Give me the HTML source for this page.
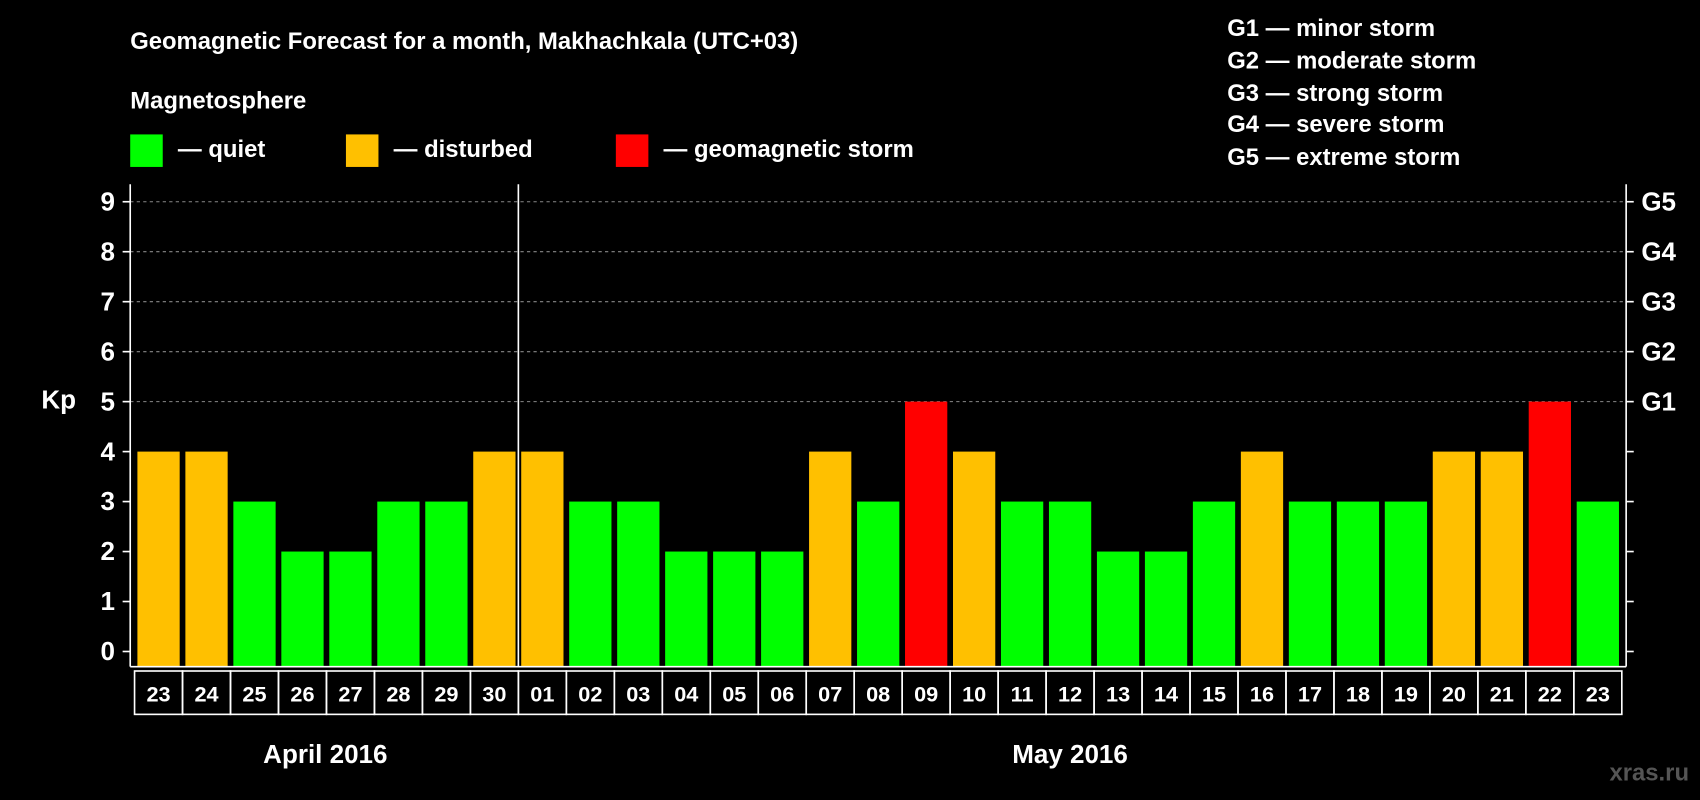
<!DOCTYPE html>
<html><head><meta charset="utf-8"><style>
html,body{margin:0;padding:0;background:#000;}
svg{display:block;font-family:"Liberation Sans",Arial,sans-serif;font-weight:bold;}
</style></head><body>
<svg id="chart" width="1700" height="800" viewBox="0 0 1568 738" xmlns="http://www.w3.org/2000/svg">
<rect width="1568" height="738" fill="#000"/>
<text x="120" y="45" fill="#fff" font-size="22">Geomagnetic Forecast for a month, Makhachkala (UTC+03)</text>
<text x="120" y="100" fill="#fff" font-size="22">Magnetosphere</text>
<g><rect x="120" y="124" width="30" height="30" fill="#00ff00"/><text x="164" y="145" fill="#fff" font-size="22">— quiet</text></g>
<g><rect x="319" y="124" width="30" height="30" fill="#ffc000"/><text x="363" y="145" fill="#fff" font-size="22">— disturbed</text></g>
<g><rect x="568" y="124" width="30" height="30" fill="#ff0000"/><text x="612" y="145" fill="#fff" font-size="22">— geomagnetic storm</text></g>
<g fill="#fff" font-size="22">
<text x="1132" y="33">G1 — minor storm</text>
<text x="1132" y="63">G2 — moderate storm</text>
<text x="1132" y="93">G3 — strong storm</text>
<text x="1132" y="122">G4 — severe storm</text>
<text x="1132" y="152">G5 — extreme storm</text>
</g>
<text x="38" y="377" fill="#fff" font-size="24">Kp</text>
<g id="plot"></g>
<text x="300" y="704" fill="#fff" font-size="24" text-anchor="middle">April 2016</text>
<text x="987" y="704" fill="#fff" font-size="24" text-anchor="middle">May 2016</text>
<text x="1558" y="720" fill="#555" font-size="22" text-anchor="end">xras.ru</text>
</svg>
<script>
const days = ["23","24","25","26","27","28","29","30","01","02","03","04","05","06","07","08","09","10","11","12","13","14","15","16","17","18","19","20","21","22","23"];
const kpValues = [4,4,3,2,2,3,3,4,4,3,3,2,2,2,4,3,5,4,3,3,2,2,3,4,3,3,3,4,4,5,3];
const yTicks = [0,1,2,3,4,5,6,7,8,9];
const gLabels = ["G1","G2","G3","G4","G5"];
const NS="http://www.w3.org/2000/svg";
const g=document.getElementById('plot');
const X0=124,X1=1496,L=120,R=1500,BOT=615,TOP=170;
const slot=(X1-X0)/days.length;
const y=v=>601-v*46.1;
const xc=i=>X0+slot*(i+0.5);
function mk(t,a){const e=document.createElementNS(NS,t);for(const k in a)e.setAttribute(k,a[k]);g.appendChild(e);return e;}
function col(v){return v>=5?"#ff0000":(v>=4?"#ffc000":"#00ff00");}
yTicks.forEach(t=>{
  if(t>=5){const l=mk('line',{x1:L,x2:R,y1:y(t),y2:y(t),stroke:'#888','stroke-dasharray':'3,3','stroke-width':1});
  
  }
  const tk=mk('line',{x1:L-7,x2:L,y1:y(t),y2:y(t),stroke:'#fff','stroke-width':1.5});
  
  
  const rt=mk('line',{x1:R,x2:R+7,y1:y(t),y2:y(t),stroke:'#fff','stroke-width':1.5});
  
  
  const tx=mk('text',{x:L-14,y:y(t)+8,fill:'#fff','font-size':24,'text-anchor':'end'});
  tx.textContent=t;
  
  
});
gLabels.forEach((s,i)=>{
  const tx=mk('text',{x:R+14,y:y(5+i)+8,fill:'#fff','font-size':24});
  tx.textContent=s;
  
  
});
kpValues.forEach((v,i)=>{
  const b=mk('rect',{x:xc(i)-19.5,y:y(v),width:39,height:BOT-y(v),fill:col(v)});
  
  
});
days.forEach((d,i)=>{
  const c=mk('rect',{x:X0+slot*i,y:619,width:slot,height:40,fill:'none',stroke:'#fff','stroke-width':1.5});
  
  
  const t=mk('text',{x:xc(i),y:647,fill:'#fff','font-size':20,'text-anchor':'middle'});
  t.textContent=d;
  
  
});
[[L,TOP,L,BOT],[R,TOP,R,BOT],[L,BOT,R,BOT]].forEach(a=>{
  const l=mk('line',{x1:a[0],y1:a[1],x2:a[2],y2:a[3],stroke:'#fff','stroke-width':1.5});
  
  
});
const sep=mk('line',{x1:X0+slot*8,x2:X0+slot*8,y1:TOP,y2:BOT,stroke:'#fff','stroke-width':1.5});


</script>
</body></html>
